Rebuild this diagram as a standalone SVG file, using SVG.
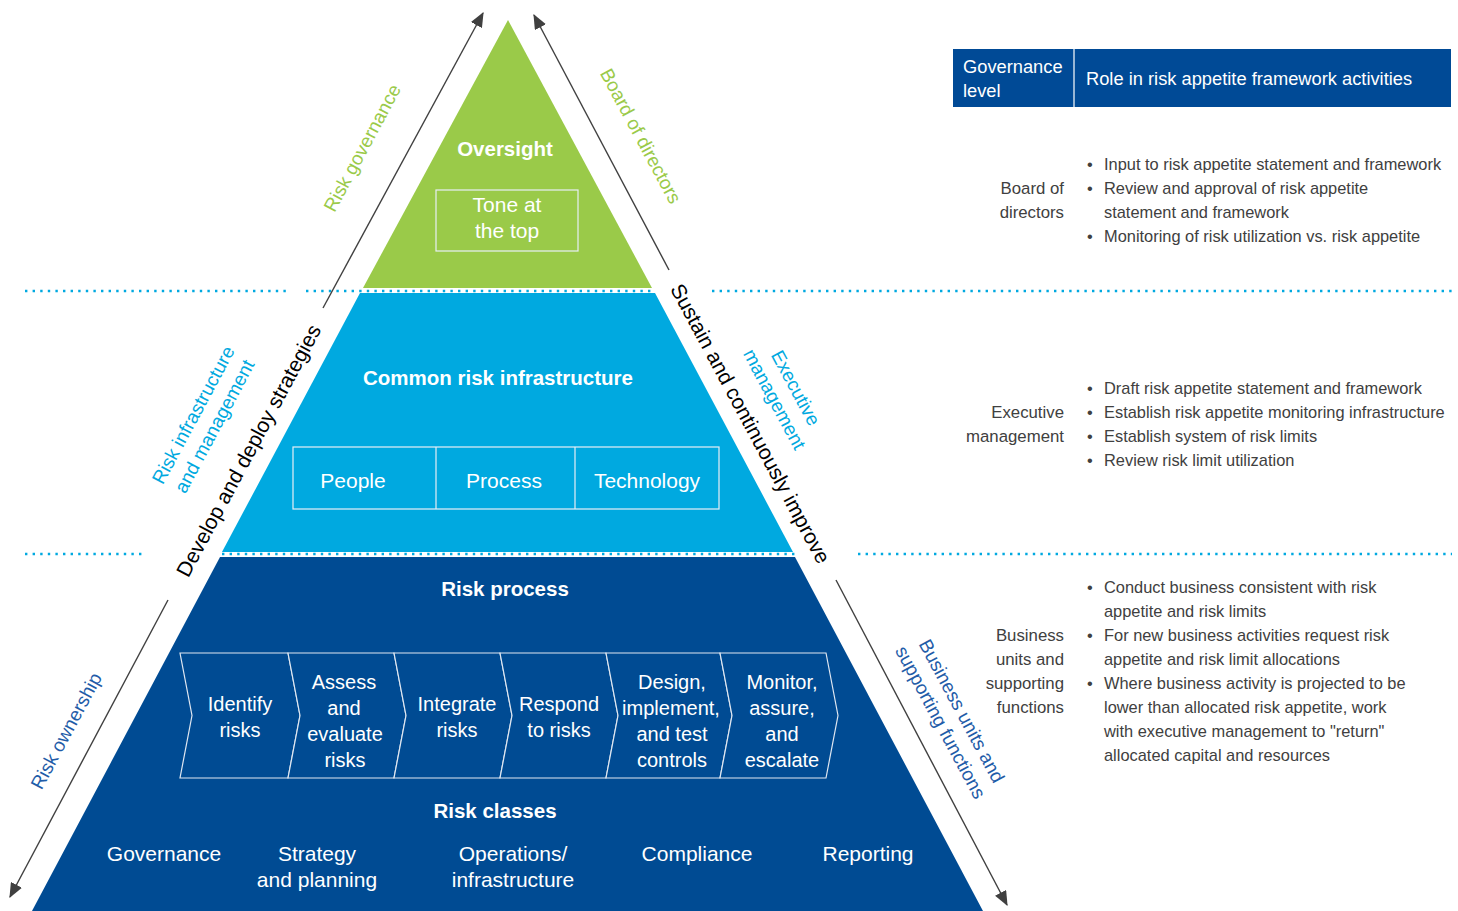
<svg xmlns="http://www.w3.org/2000/svg" width="1458" height="911" viewBox="0 0 1458 911">
<defs>
<marker id="ah" viewBox="0 0 12 10" refX="11" refY="5" markerWidth="15" markerHeight="12.5" markerUnits="userSpaceOnUse" orient="auto">
<path d="M0,0 L12,5 L0,10 z" fill="#404040"/>
</marker>
<style>
text{font-family:"Liberation Sans",Arial,sans-serif}
.wb{fill:#fff;font-weight:bold;font-size:20.5px;text-anchor:middle}
.w{fill:#fff;font-size:21px;text-anchor:middle}
.wc{fill:#fff;font-size:20px;text-anchor:middle}
.box{fill:none;stroke:#e8eef5;stroke-width:1.2}
.chev{fill:#004b93;stroke:#dfe7f1;stroke-width:1.2}
.dot{stroke:#00a9e0;stroke-width:2.4;stroke-dasharray:2.4 5.2;fill:none}
.arr{stroke:#404040;stroke-width:1.4;fill:none;marker-end:url(#ah)}
.g{fill:#9aca49;font-size:19px;text-anchor:middle}
.lb{fill:#00a9e0;font-size:19px;text-anchor:middle}
.db{fill:#1f5ca8;font-size:19px;text-anchor:middle}
.k{fill:#000;font-size:21px;text-anchor:middle}
.t{fill:#404040;font-size:16.4px}
.tr{fill:#404040;font-size:16.8px;text-anchor:end}
.hd{fill:#fff;font-size:18.3px}
</style>
</defs>

<g id="dotted-lines">
<line class="dot" x1="25" y1="291" x2="290" y2="291"/>
<line class="dot" x1="306" y1="291" x2="655" y2="291"/>
<line class="dot" x1="712" y1="291" x2="1452" y2="291"/>
<line class="dot" x1="25" y1="554" x2="145" y2="554"/>
<line class="dot" x1="222" y1="554" x2="795" y2="554"/>
<line class="dot" x1="858" y1="554" x2="1452" y2="554"/>
</g>

<g id="oversight">
<polygon points="508,20 652,288 363,288" fill="#9aca49"/>
<text class="wb" x="505" y="156">Oversight</text>
<rect class="box" x="436" y="190" width="142" height="61"/>
<text class="w" x="507" y="212">Tone at</text>
<text class="w" x="507" y="238">the top</text>
</g>

<g id="common-risk-infrastructure">
<polygon points="360,293 655,293 793,552 222,552" fill="#00a9e0"/>
<text class="wb" x="498" y="385">Common risk infrastructure</text>
<rect class="box" x="293" y="447" width="426" height="62"/>
<line class="box" x1="436" y1="447" x2="436" y2="509"/>
<line class="box" x1="575" y1="447" x2="575" y2="509"/>
<text class="w" x="353" y="488">People</text>
<text class="w" x="504" y="488">Process</text>
<text class="w" x="647" y="488">Technology</text>
</g>

<g id="risk-process">
<polygon points="220,557 795,557 983,911 32,911" fill="#004b93"/>
<text class="wb" x="505" y="596">Risk process</text>
</g>

<g id="chevron-identify">
<path class="chev" d="M180,653 L288,653 L300,715.5 L288,778 L180,778 L192,715.5 Z"/>
<text class="wc" x="240" y="711">Identify</text>
<text class="wc" x="240" y="737">risks</text>
</g>
<g id="chevron-assess">
<path class="chev" d="M288,653 L394,653 L406,715.5 L394,778 L288,778 L300,715.5 Z"/>
<text class="wc" x="344" y="689">Assess</text>
<text class="wc" x="344" y="715">and</text>
<text class="wc" x="345" y="741">evaluate</text>
<text class="wc" x="345" y="767">risks</text>
</g>
<g id="chevron-integrate">
<path class="chev" d="M394,653 L500,653 L512,715.5 L500,778 L394,778 L406,715.5 Z"/>
<text class="wc" x="457" y="711">Integrate</text>
<text class="wc" x="457" y="737">risks</text>
</g>
<g id="chevron-respond">
<path class="chev" d="M500,653 L606,653 L618,715.5 L606,778 L500,778 L512,715.5 Z"/>
<text class="wc" x="559" y="711">Respond</text>
<text class="wc" x="559" y="737">to risks</text>
</g>
<g id="chevron-design">
<path class="chev" d="M606,653 L720,653 L732,715.5 L720,778 L606,778 L618,715.5 Z"/>
<text class="wc" x="672" y="689">Design,</text>
<text class="wc" x="671" y="715">implement,</text>
<text class="wc" x="672" y="741">and test</text>
<text class="wc" x="672" y="767">controls</text>
</g>
<g id="chevron-monitor">
<path class="chev" d="M720,653 L826,653 L838,715.5 L826,778 L720,778 L732,715.5 Z"/>
<text class="wc" x="782" y="689">Monitor,</text>
<text class="wc" x="782" y="715">assure,</text>
<text class="wc" x="782" y="741">and</text>
<text class="wc" x="782" y="767">escalate</text>
</g>

<g id="risk-classes">
<text class="wb" x="495" y="818">Risk classes</text>
<text class="w" x="164" y="861">Governance</text>
<text class="w" x="317" y="861">Strategy</text>
<text class="w" x="317" y="887">and planning</text>
<text class="w" x="513" y="861">Operations/</text>
<text class="w" x="513" y="887">infrastructure</text>
<text class="w" x="697" y="861">Compliance</text>
<text class="w" x="868" y="861">Reporting</text>
</g>

<g id="connectors">
<line class="arr" x1="323" y1="308" x2="483" y2="13"/>
<line class="arr" x1="669" y1="270" x2="534" y2="15"/>
<line class="arr" x1="168" y1="600" x2="10" y2="897"/>
<line class="arr" x1="836" y1="580" x2="1007" y2="905"/>
</g>

<g id="side-labels">
<text class="g" transform="translate(368,151) rotate(-61.8)">Risk governance</text>
<text class="g" transform="translate(635,139) rotate(61.8)">Board of directors</text>
<text class="k" transform="translate(255,454) rotate(-61.8)">Develop and deploy strategies</text>
<text class="k" transform="translate(744,427) rotate(61.8)">Sustain and continuously improve</text>
<g transform="translate(199,418) rotate(-61.8)">
<text class="lb" x="0" y="0">Risk infrastructure</text>
<text class="lb" x="0" y="24">and management</text>
</g>
<g transform="translate(790,391) rotate(61.8)">
<text class="lb" x="0" y="0">Executive</text>
<text class="lb" x="0" y="24">management</text>
</g>
<text class="db" transform="translate(72,734) rotate(-61.8)">Risk ownership</text>
<g transform="translate(956,714) rotate(61.8)">
<text class="db" x="0" y="0">Business units and</text>
<text class="db" x="0" y="24">supporting functions</text>
</g>
</g>

<g id="table-header">
<rect x="953" y="49" width="498" height="58" fill="#004a96"/>
<line x1="1074" y1="49" x2="1074" y2="107" stroke="#fff" stroke-width="1.2"/>
<text class="hd" x="963" y="73">Governance</text>
<text class="hd" x="963" y="97">level</text>
<text class="hd" x="1086" y="85">Role in risk appetite framework activities</text>
</g>

<g id="row-board">
<text class="tr" x="1064" y="194">Board of</text>
<text class="tr" x="1064" y="218">directors</text>
<text class="t" x="1087" y="170">•</text>
<text class="t" x="1104" y="170">Input to risk appetite statement and framework</text>
<text class="t" x="1087" y="194">•</text>
<text class="t" x="1104" y="194">Review and approval of risk appetite</text>
<text class="t" x="1104" y="218">statement and framework</text>
<text class="t" x="1087" y="242">•</text>
<text class="t" x="1104" y="242">Monitoring of risk utilization vs. risk appetite</text>
</g>

<g id="row-executive">
<text class="tr" x="1064" y="418">Executive</text>
<text class="tr" x="1064" y="442">management</text>
<text class="t" x="1087" y="394">•</text>
<text class="t" x="1104" y="394">Draft risk appetite statement and framework</text>
<text class="t" x="1087" y="418">•</text>
<text class="t" x="1104" y="418">Establish risk appetite monitoring infrastructure</text>
<text class="t" x="1087" y="442">•</text>
<text class="t" x="1104" y="442">Establish system of risk limits</text>
<text class="t" x="1087" y="466">•</text>
<text class="t" x="1104" y="466">Review risk limit utilization</text>
</g>

<g id="row-business">
<text class="tr" x="1064" y="641">Business</text>
<text class="tr" x="1064" y="665">units and</text>
<text class="tr" x="1064" y="689">supporting</text>
<text class="tr" x="1064" y="713">functions</text>
<text class="t" x="1087" y="593">•</text>
<text class="t" x="1104" y="593">Conduct business consistent with risk</text>
<text class="t" x="1104" y="617">appetite and risk limits</text>
<text class="t" x="1087" y="641">•</text>
<text class="t" x="1104" y="641">For new business activities request risk</text>
<text class="t" x="1104" y="665">appetite and risk limit allocations</text>
<text class="t" x="1087" y="689">•</text>
<text class="t" x="1104" y="689">Where business activity is projected to be</text>
<text class="t" x="1104" y="713">lower than allocated risk appetite, work</text>
<text class="t" x="1104" y="737">with executive management to "return"</text>
<text class="t" x="1104" y="761">allocated capital and resources</text>
</g>
</svg>
